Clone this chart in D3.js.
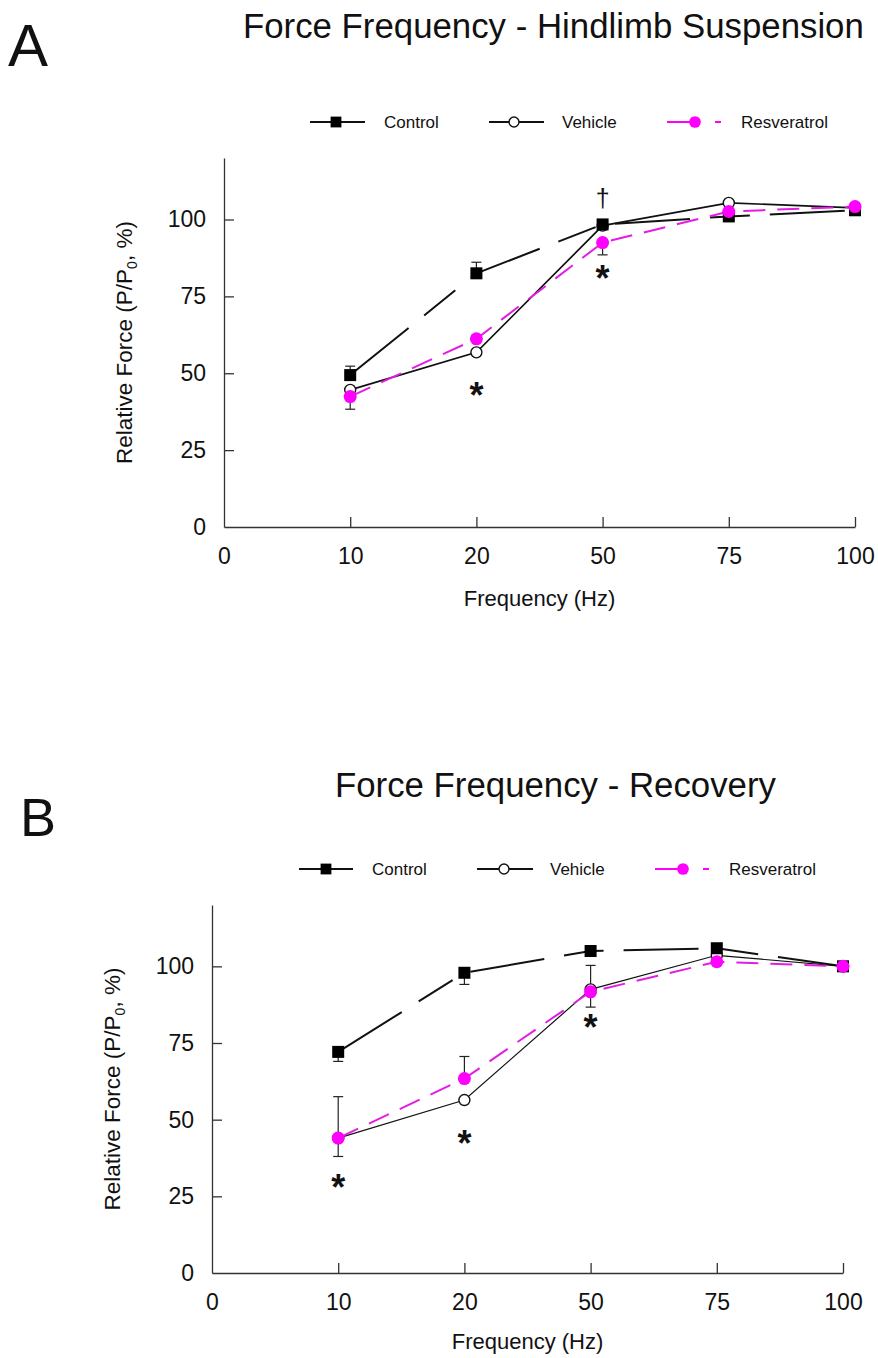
<!DOCTYPE html>
<html>
<head>
<meta charset="utf-8">
<script src="https://cdn.jsdelivr.net/npm/d3@7/dist/d3.min.js"></script>
<style>
  html, body { margin: 0; padding: 0; background: #fff; }
  svg { display: block; }
  text { font-family: "Liberation Sans", Arial, Helvetica, sans-serif; fill: #111; }
</style>
</head>
<body>
<svg id="chart" width="878" height="1358"></svg>
<script>
// ---------- DATA ----------
const axisCategories = ["0", "10", "20", "50", "75", "100"];
const frequencies = ["10", "20", "50", "75", "100"];
const yTickValues = [0, 25, 50, 75, 100];
const seriesNames = ["Control", "Vehicle", "Resveratrol"];

// Panel A: Hindlimb Suspension
const hsControl = [49.4, 82.5, 98.4, 101.0, 103.0];
const hsControlErrHi = [2.9, 3.6, null, null, null];
const hsControlErrLo = [null, null, null, null, null];
const hsVehicle = [44.6, 56.8, 98.0, 105.4, 103.8];
const hsVehicleErrHi = [null, null, null, null, null];
const hsVehicleErrLo = [null, null, null, null, null];
const hsResveratrol = [42.4, 61.2, 92.5, 102.6, 104.2];
const hsResveratrolErrHi = [null, null, null, null, null];
const hsResveratrolErrLo = [4.1, null, 4.0, null, null];
const hsMarks = [
  { f: "20", v: 45.6, s: "*" },
  { f: "50", v: 83.6, s: "*" },
  { f: "50", v: 106.7, s: "\u2020" }
];

// Panel B: Recovery
const recControl = [72.1, 97.9, 105.0, 105.9, 100.0];
const recControlErrHi = [null, null, null, null, null];
const recControlErrLo = [3.1, 3.8, null, null, null];
const recVehicle = [44.0, 56.4, 92.5, 103.6, 100.0];
const recVehicleErrHi = [null, null, 7.8, null, null];
const recVehicleErrLo = [null, null, 5.8, null, null];
const recResveratrol = [44.0, 63.4, 91.7, 101.5, 100.0];
const recResveratrolErrHi = [13.5, 7.2, null, null, null];
const recResveratrolErrLo = [6.0, null, null, null, null];
const recMarks = [
  { f: "10", v: 30.6, s: "*" },
  { f: "20", v: 45.0, s: "*" },
  { f: "50", v: 82.8, s: "*" }
];

// ---------- DRAWING ----------
const svg = d3.select("#chart");
const MAGENTA = "#ff00ff";

const styles = {
  Control: { stroke: "#111", width: 2, dash: "75,20,40,20" },
  Vehicle: { stroke: "#111", width: 1.6, dash: null },
  Resveratrol: { stroke: "#e31ee3", width: 2, dash: "22,12" }
};

function drawPanel(cfg) {
  const g = svg.append("g");
  const x = d3.scalePoint().domain(axisCategories).range([cfg.left, cfg.right]);
  const y = d3.scaleLinear().domain([0, 120]).range([cfg.bottom, cfg.top]);

  // Letter + title
  g.append("text").attr("x", cfg.letterX).attr("y", cfg.letterY)
    .attr("font-size", cfg.letterSize).text(cfg.letter);
  g.append("text").attr("x", cfg.titleX).attr("y", cfg.titleY)
    .attr("font-size", 34.8).text(cfg.title);

  // Axes
  const yAxis = d3.axisLeft(y).tickValues(yTickValues).tickSizeInner(-10).tickSizeOuter(0).tickPadding(18);
  const ya = g.append("g").attr("transform", `translate(${cfg.left},0)`).call(yAxis);
  const xAxis = d3.axisBottom(x).tickSizeInner(-10).tickSizeOuter(0).tickPadding(21);
  const xa = g.append("g").attr("transform", `translate(0,${cfg.bottom})`).call(xAxis);
  [ya, xa].forEach(a => {
    a.select(".domain").attr("stroke", "#333").attr("stroke-width", 1.3);
    a.selectAll(".tick line").attr("stroke", "#333").attr("stroke-width", 1.3);
    a.selectAll(".tick text").attr("font-size", 23).attr("fill", "#111")
      .attr("font-family", "Liberation Sans, Arial, sans-serif");
  });
  xa.selectAll(".tick").filter(d => d === "0").select("line").remove();
  ya.selectAll(".tick").filter(d => d === 0).select("line").remove();

  // Axis labels
  const yl = g.append("text")
    .attr("transform", `translate(${cfg.yLabelX},${(cfg.top + cfg.bottom) / 2}) rotate(-90)`)
    .attr("text-anchor", "middle").attr("font-size", 22.5);
  yl.append("tspan").text("Relative Force (P/P");
  yl.append("tspan").attr("font-size", 14).attr("dy", 5).text("0");
  yl.append("tspan").attr("dy", -5).text(", %)");
  g.append("text").attr("x", (cfg.left + cfg.right) / 2).attr("y", cfg.xLabelY)
    .attr("text-anchor", "middle").attr("font-size", 22).text("Frequency (Hz)");

  const line = d3.line().x(d => x(d.f)).y(d => y(d.v));
  const seriesData = seriesNames.map((name, i) => ({
    name,
    pts: frequencies.map((f, j) => ({ f, v: cfg.values[i][j], hi: cfg.errHi[i][j], lo: cfg.errLo[i][j] }))
  }));

  // error bars
  seriesData.forEach(s => {
    const col = "#222";
    s.pts.forEach(p => {
      if (p.hi != null) {
        g.append("line").attr("x1", x(p.f)).attr("x2", x(p.f)).attr("y1", y(p.v)).attr("y2", y(p.v + p.hi))
          .attr("stroke", col).attr("stroke-width", 1.2);
        g.append("line").attr("x1", x(p.f) - 5).attr("x2", x(p.f) + 5).attr("y1", y(p.v + p.hi)).attr("y2", y(p.v + p.hi))
          .attr("stroke", col).attr("stroke-width", 1.2);
      }
      if (p.lo != null) {
        g.append("line").attr("x1", x(p.f)).attr("x2", x(p.f)).attr("y1", y(p.v)).attr("y2", y(p.v - p.lo))
          .attr("stroke", col).attr("stroke-width", 1.2);
        g.append("line").attr("x1", x(p.f) - 5).attr("x2", x(p.f) + 5).attr("y1", y(p.v - p.lo)).attr("y2", y(p.v - p.lo))
          .attr("stroke", col).attr("stroke-width", 1.2);
      }
    });
  });

  seriesData.forEach(s => {
    const st = styles[s.name];
    g.append("path").datum(s.pts).attr("d", line)
      .attr("fill", "none").attr("stroke", st.stroke)
      .attr("stroke-width", s.name === "Vehicle" ? cfg.vehicleWidth : st.width)
      .attr("stroke-dasharray", st.dash);
  });

  const order = ["Vehicle", "Control", "Resveratrol"];
  order.forEach(name => {
    const s = seriesData.find(d => d.name === name);
    s.pts.forEach(p => drawMarker(g, name, x(p.f), y(p.v)));
  });

  // Significance marks
  cfg.marks.forEach(m => {
    if (m.s === "*") {
      g.append("text").attr("x", x(m.f)).attr("y", y(m.v) + 21)
        .attr("text-anchor", "middle").attr("font-size", 36).attr("font-weight", "bold").text(m.s);
    } else {
      g.append("text").attr("x", x(m.f)).attr("y", y(m.v) + 8)
        .attr("text-anchor", "middle").attr("font-size", 25).text(m.s);
    }
  });

  // Legend
  cfg.legend.forEach((L, i) => {
    const name = seriesNames[i];
    if (name === "Resveratrol") {
      g.append("line").attr("x1", L.x1).attr("x2", L.x2).attr("y1", cfg.legendY).attr("y2", cfg.legendY)
        .attr("stroke", MAGENTA).attr("stroke-width", 1.8).attr("stroke-dasharray", "30,18,6,60");
    } else {
      g.append("line").attr("x1", L.x1).attr("x2", L.x2).attr("y1", cfg.legendY).attr("y2", cfg.legendY)
        .attr("stroke", "#111").attr("stroke-width", 1.8);
    }
    drawMarker(g, name, L.m, cfg.legendY, 0.9);
    g.append("text").attr("x", L.t).attr("y", cfg.legendY).attr("dy", "0.36em")
      .attr("font-size", 17).text(name);
  });
}

function drawMarker(g, name, cx, cy, k = 1) {
  if (name === "Control") {
    const s = 12 * k;
    g.append("rect").attr("x", cx - s / 2).attr("y", cy - s / 2).attr("width", s).attr("height", s).attr("fill", "#000");
  } else if (name === "Vehicle") {
    g.append("circle").attr("cx", cx).attr("cy", cy).attr("r", 5.5 * k)
      .attr("fill", "#fff").attr("stroke", "#111").attr("stroke-width", 1.4);
  } else {
    g.append("circle").attr("cx", cx).attr("cy", cy).attr("r", 6.5 * k).attr("fill", MAGENTA);
  }
}

drawPanel({
  letter: "A", letterX: 8, letterY: 66, letterSize: 60,
  title: "Force Frequency - Hindlimb Suspension", titleX: 243, titleY: 38,
  left: 224, right: 855, top: 158, bottom: 527,
  yLabelX: 132, xLabelY: 606, vehicleWidth: 1.7,
  legendY: 122,
  legend: [{ x1: 310, x2: 365, m: 336, t: 384 }, { x1: 489, x2: 544, m: 514, t: 562 }, { x1: 667, x2: 725, m: 695, t: 741 }],
  values: [hsControl, hsVehicle, hsResveratrol],
  errHi: [hsControlErrHi, hsVehicleErrHi, hsResveratrolErrHi],
  errLo: [hsControlErrLo, hsVehicleErrLo, hsResveratrolErrLo],
  marks: hsMarks
});

drawPanel({
  letter: "B", letterX: 20, letterY: 836, letterSize: 54,
  title: "Force Frequency - Recovery", titleX: 335, titleY: 797,
  left: 212, right: 843, top: 905, bottom: 1273,
  yLabelX: 120, xLabelY: 1349, vehicleWidth: 1.2,
  legendY: 869,
  legend: [{ x1: 299, x2: 353, m: 326, t: 372 }, { x1: 477, x2: 533, m: 504, t: 550 }, { x1: 655, x2: 713, m: 683, t: 729 }],
  values: [recControl, recVehicle, recResveratrol],
  errHi: [recControlErrHi, recVehicleErrHi, recResveratrolErrHi],
  errLo: [recControlErrLo, recVehicleErrLo, recResveratrolErrLo],
  marks: recMarks
});
</script>
</body>
</html>
